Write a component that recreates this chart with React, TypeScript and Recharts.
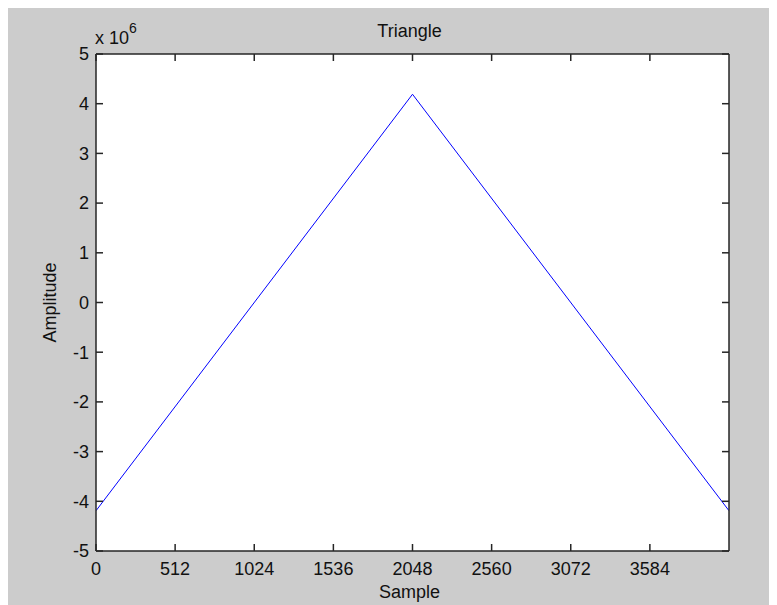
import React from 'react';
import { LineChart, Line, XAxis, YAxis, Label, CartesianGrid } from 'recharts';

const sampleIdx = [0, 2048, 4096];
const amplitudeMillions = [-4.19, 4.19, -4.19];
const xTicks = [0, 512, 1024, 1536, 2048, 2560, 3072, 3584];
const yTicks = [-5, -4, -3, -2, -1, 0, 1, 2, 3, 4, 5];

const data = sampleIdx.map((s, i) => ({ sample: s, amp: amplitudeMillions[i] }));

const FONT = '"Liberation Sans", Arial, sans-serif';
const AXIS = '#262626';
const tickStyle = { fill: '#111', fontSize: 18, fontFamily: FONT };

export default function App() {
  return (
    <div style={{ position: 'relative', width: 769, height: 597, background: '#cccccc', fontFamily: FONT }}>
      <LineChart width={769} height={597} data={data} margin={{ top: 45, right: 47, bottom: 0, left: 0 }}>
        <CartesianGrid xAxisId="b" yAxisId="l" fill="#ffffff" stroke="none" horizontal={false} vertical={false} />
        <XAxis
          xAxisId="b"
          dataKey="sample"
          type="number"
          domain={[0, 4096]}
          ticks={xTicks}
          allowDataOverflow
          height={54}
          tickSize={-7}
          tickMargin={18}
          tick={tickStyle}
          axisLine={{ stroke: AXIS, strokeWidth: 1.5 }}
          tickLine={{ stroke: AXIS, strokeWidth: 1.5 }}
          interval={0}
        >
          <Label value="Sample" position="insideBottom" offset={7} dx={-3} style={{ fill: '#111', fontSize: 18, fontFamily: FONT }} />
        </XAxis>
        <XAxis
          xAxisId="t"
          orientation="top"
          dataKey="sample"
          type="number"
          domain={[0, 4096]}
          ticks={xTicks}
          allowDataOverflow
          height={1}
          tickSize={-7}
          tickFormatter={() => ''}
          axisLine={{ stroke: AXIS, strokeWidth: 1.5 }}
          tickLine={{ stroke: AXIS, strokeWidth: 1.5 }}
          interval={0}
        />
        <YAxis
          yAxisId="l"
          type="number"
          domain={[-5, 5]}
          ticks={yTicks}
          allowDataOverflow
          width={88}
          tickSize={-7}
          tickMargin={14}
          tick={tickStyle}
          axisLine={{ stroke: AXIS, strokeWidth: 1.5 }}
          tickLine={{ stroke: AXIS, strokeWidth: 1.5 }}
          interval={0}
        >
          <Label
            value="Amplitude"
            angle={-90}
            position="insideLeft"
            offset={42}
            style={{ textAnchor: 'middle', fill: '#111', fontSize: 18, fontFamily: FONT }}
          />
        </YAxis>
        <YAxis
          yAxisId="r"
          orientation="right"
          type="number"
          domain={[-5, 5]}
          ticks={yTicks}
          allowDataOverflow
          width={1}
          tickSize={-7}
          tickFormatter={() => ''}
          axisLine={{ stroke: AXIS, strokeWidth: 1.5 }}
          tickLine={{ stroke: AXIS, strokeWidth: 1.5 }}
          interval={0}
        />
        <Line
          xAxisId="b"
          yAxisId="l"
          type="linear"
          dataKey="amp"
          stroke="#0000ff"
          strokeWidth={1}
          dot={false}
          isAnimationActive={false}
        />
      </LineChart>
      <div
        style={{
          position: 'absolute',
          left: 301.5,
          width: 200,
          top: 13.8,
          textAlign: 'center',
          fontSize: 18,
          lineHeight: '18px',
          color: '#111',
        }}
      >
        Triangle
      </div>
      <div
        style={{
          position: 'absolute',
          left: 87,
          top: 20.8,
          fontSize: 18,
          lineHeight: '18px',
          color: '#111',
          whiteSpace: 'nowrap',
        }}
      >
        x 10
        <span style={{ fontSize: 14, position: 'relative', top: -11 }}>6</span>
      </div>
    </div>
  );
}
